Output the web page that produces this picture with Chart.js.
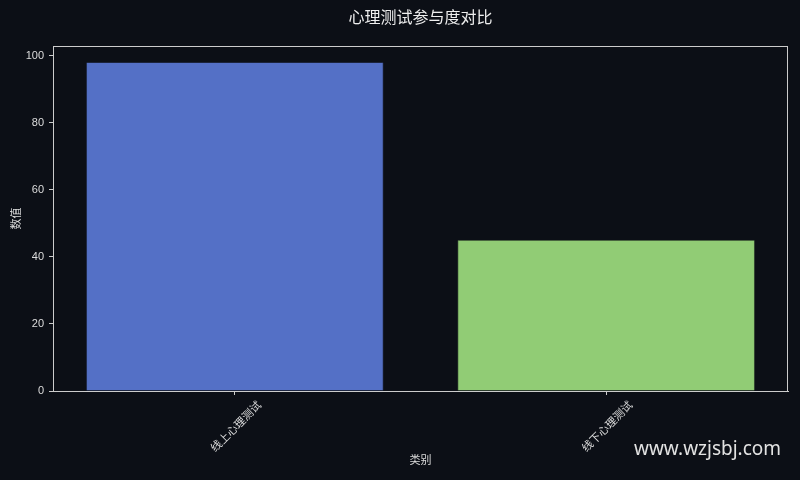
<!DOCTYPE html>
<html lang="zh">
<head>
  <meta charset="UTF-8" />
  <title>心理测试参与度对比</title>
  <script src="https://cdn.jsdelivr.net/npm/chart.js"></script>
  <style>
    body { margin: 0; background: #0c0f16; }
    .wrap { position: relative; width: 800px; height: 480px; }
    .mark { position: absolute; left: 634px; top: 435px; font: 19px 'Noto Sans', sans-serif; color: #e2e2e2; }
  </style>
</head>
<body>
  <div class="wrap">
    <canvas id="chart" width="800" height="480"></canvas>
    <div class="mark">www.wzjsbj.com</div>
  </div>
  <script>
    const categories = ['线上心理测试', '线下心理测试'];
    const values = [98, 45];
    const barColors = ['#5470c6', '#91cc75'];
    const yTicks = [0, 20, 40, 60, 80, 100];

    const FONT = "'Liberation Sans', 'Noto Sans CJK SC', sans-serif";
    const textColor = '#dcdcdc';
    const spine = '#cccccc';

    // top + right spines (matplotlib style box)
    const boxPlugin = {
      id: 'box',
      afterDatasetsDraw(chart) {
        const { ctx, chartArea: a } = chart;
        ctx.save();
        ctx.strokeStyle = spine;
        ctx.lineWidth = 1;
        ctx.strokeRect(a.left + 0.5, a.top + 0.5, a.right - a.left - 1, a.bottom - a.top);
        ctx.restore();
      }
    };

    new Chart(document.getElementById('chart'), {
      type: 'bar',
      data: {
        datasets: [{
          data: values.map((v, i) => ({ x: i, y: v })),
          backgroundColor: barColors,
          borderColor: ['#4862ad', '#7fb566'],
          borderWidth: 0.6,
          barPercentage: 0.8,
          categoryPercentage: 1
        }]
      },
      options: {
        responsive: false,
        animation: false,
        layout: { padding: { left: 0, right: 12, top: 0, bottom: 0 } },
        plugins: {
          legend: { display: false },
          tooltip: { enabled: false },
          title: {
            display: true,
            text: '心理测试参与度对比',
            color: '#eeeeee',
            fullSize: false,
            font: { family: FONT, size: 16, weight: 'normal' },
            padding: { top: 9, bottom: 17.8 }
          }
        },
        scales: {
          x: {
            type: 'linear',
            offset: false,
            min: -0.49,
            max: 1.49,
            afterBuildTicks: s => { s.ticks = categories.map((c, i) => ({ value: i })); },
            afterFit: s => { s.height = 89; },
            ticks: {
              callback: v => categories[v],
              color: textColor,
              font: { family: FONT, size: 11 },
              minRotation: 45,
              maxRotation: 45,
              labelOffset: 25,
              padding: 4
            },
            grid: { offset: false, drawOnChartArea: false, drawTicks: true, tickLength: 4, tickColor: spine },
            border: { display: true, color: spine },
            title: {
              display: true,
              text: '类别',
              color: textColor,
              font: { family: FONT, size: 11 },
              padding: { top: 0, bottom: 12 }
            }
          },
          y: {
            min: 0,
            max: 102.9,
            afterBuildTicks: s => { s.ticks = yTicks.map(v => ({ value: v })); },
            afterFit: s => { s.width = 53; },
            ticks: {
              color: textColor,
              font: { family: FONT, size: 11 },
              padding: 5
            },
            grid: { drawOnChartArea: false, drawTicks: true, tickLength: 4, tickColor: spine },
            border: { display: true, color: spine },
            title: {
              display: true,
              text: '数值',
              color: textColor,
              font: { family: FONT, size: 11 },
              padding: { top: 10, bottom: 0 }
            }
          }
        }
      },
      plugins: [boxPlugin]
    });
  </script>
</body>
</html>
